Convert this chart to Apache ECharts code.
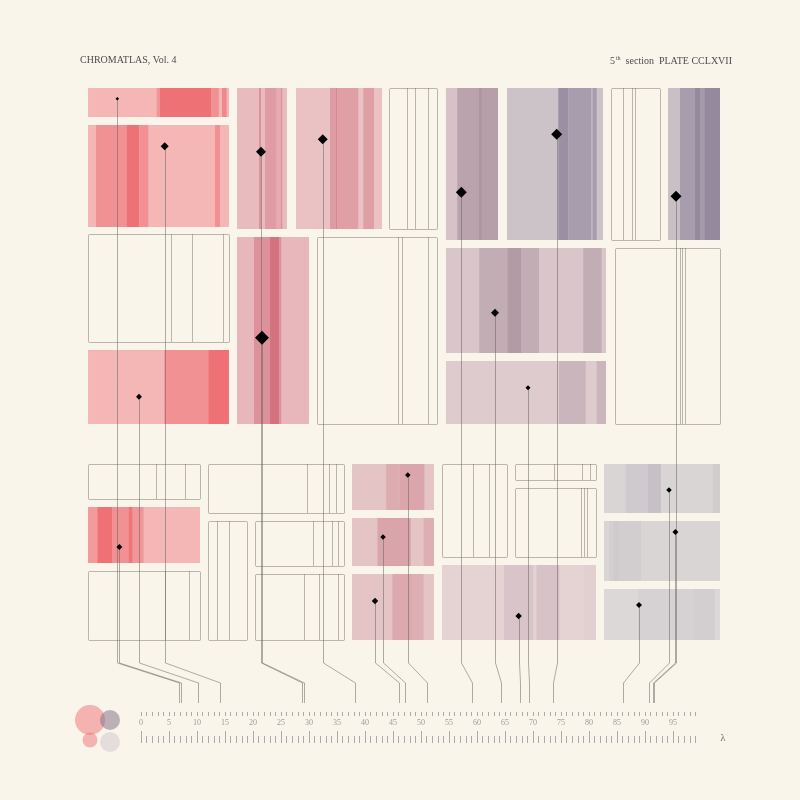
<!DOCTYPE html>
<html><head><meta charset="utf-8">
<script src="https://cdn.jsdelivr.net/npm/echarts@6/dist/echarts.min.js"></script>
<style>html,body{margin:0;background:#f9f5eb}#c{width:800px;height:800px}</style>
</head><body><div id="c"></div>
<script>
// ================= DATA =================
// Plate panels: horizontal extent in λ units, vertical extent in plate depth units
const panelIds = ['A1','A2','A3','A4','B1','B2','B3','B4','B5','C1','C2','C3','C4','C5','C6','C7','D1','D2','D3','E1','E2','E3','E4','F1','F2','F3','G1','G2','G3','G4','H1','H2','H3'];
const panelX0 = [-9.46,-9.46,-9.46,-9.46,17.14,27.68,44.29,17.14,31.43,54.46,65.36,83.93,94.11,54.46,54.46,84.64,-9.46,-9.46,-9.46,11.96,11.96,20.36,20.36,37.68,37.68,37.68,53.75,66.79,66.79,53.75,82.68,82.68,82.68];
const panelX1 = [15.71,15.71,15.71,15.71,26.07,43.04,52.86,30.00,52.86,63.75,82.50,92.68,103.39,83.04,83.04,103.39,10.54,10.54,10.54,36.25,18.93,36.25,36.25,52.32,52.32,52.32,65.36,81.25,81.25,81.25,103.39,103.39,103.39];
const panelY0 = [0,37,146,262,0,0,0,149,149,0,0,0,0,160,273,160,376,419,483,376,433,433,486,376,430,486,376,376,400,477,376,433,501];
const panelY1 = [29,139,254,336,141,141,141,336,336,152,152,152,152,265,336,336,411,475,552,425,552,478,552,422,478,552,469,392,469,552,425,493,552];
const panelPigment = ['vermilion','vermilion',null,'vermilion','rose','rose',null,'rose',null,'mauve','slate',null,'slate','mauve','mauve',null,null,'vermilion',null,null,null,null,null,'blush','blush','blush',null,null,null,'mauve','ash','ash','ash'];
const panelBase = [0.2,0.2,null,0.2,0.2,0.15,null,0.25,null,0.3,0.08,null,0.12,0.26,0.2,null,null,0.2,null,null,null,null,null,0.1,0.1,0.1,null,null,null,0.1,0.2,0.2,0.12];

// Spectral bands inside filled panels: panel id, λ from, λ to, intensity
const bandPanel = ['A1','A1','A1','A1','A2','A2','A2','A2','A4','A4','D2','D2','D2','D2','D2','B1','B1','B1','B1','B2','B2','B2','B2','B4','B4','B4','F1','F1','F2','F2','F3','F3','C1','C1','C1','C5','C5','C5','C5','C6','C6','G4','G4','G4','C2','C2','C2','C2','C4','C4','C4','C4','H1','H1','H1','H2','H2','H2','H3','H3'];
const bandX0 = [2.80,3.39,12.50,14.46,-8.04,-2.55,-0.30,13.21,4.16,12.02,-9.46,-7.79,-5.18,-2.23,-1.48,21.07,22.14,24.23,24.95,33.75,34.82,35.09,39.70,20.18,23.04,24.70,43.79,46.16,42.23,50.46,44.89,48.39,56.48,60.36,61.02,60.41,65.41,67.86,78.98,74.64,81.38,64.84,70.61,79.13,74.52,76.30,80.36,80.66,96.25,98.93,99.95,100.59,86.54,90.46,102.11,83.57,84.32,85.43,88.75,98.75];
const bandX1 = [3.39,12.50,13.88,15.30,-2.55,-0.30,1.30,14.11,12.02,15.71,-7.79,-5.18,-2.23,-1.48,0.45,21.43,24.23,24.95,25.23,34.82,35.09,38.80,41.61,23.04,24.70,25.05,46.16,50.61,48.16,52.32,48.39,50.46,60.36,61.02,63.75,65.41,67.86,71.07,82.27,79.41,83.04,70.09,74.70,81.25,76.30,80.36,80.66,81.38,98.93,99.95,100.59,103.39,90.46,92.84,103.39,84.32,85.43,89.29,98.75,102.46];
const bandLevel = [0.55,0.95,0.6,0.7,0.6,0.95,0.6,0.6,0.6,0.95,0.5,0.95,0.6,0.9,0.55,0.6,0.5,0.35,0.6,0.5,0.7,0.48,0.48,0.6,0.88,0.6,0.38,0.45,0.47,0.35,0.42,0.35,0.7,0.88,0.75,0.58,0.8,0.58,0.58,0.47,0.47,0.27,0.3,0.15,0.85,0.65,0.3,0.65,0.65,0.95,0.7,0.95,0.5,0.75,0.45,0.35,0.5,0.42,0.3,0.38];

// Fine rules inside empty panels: panel id, λ position
const rulePanel = ['A3','A3','A3','B3','B3','B3','B5','B5','B5','C3','C3','C3','C7','C7','C7','D1','D1','D3','D3','E1','E1','E1','E2','E2','E3','E3','E3','E4','E4','E4','G1','G1','G2','G2','G2','G3','G3','G3'];
const ruleX = [5.30,9.11,14.70,47.45,48.88,51.20,45.95,46.55,51.20,86.07,87.63,88.21,96.25,96.66,97.14,2.59,7.93,4.29,8.52,29.64,33.57,34.82,13.57,15.79,30.68,34.11,35.18,29.11,31.71,35.18,59.29,62.09,73.75,78.75,80.09,78.57,79.11,79.64];

// Samples (diamonds): position, mass, and the λ they resolve to on the ruler
const sampleIds = ['A1','A2','A4','B1','B2','B4','C1','C2','C4','C5','C6','D2','F1','F2','F3','G4','H1','H2','H3'];
const sampleX = [-4.23,4.23,-0.36,21.43,32.45,21.61,57.20,74.23,95.54,63.21,69.11,-3.86,47.64,43.21,41.79,67.43,94.29,95.43,88.93];
const sampleY = [10.7,58.3,308.7,63.7,51.3,249.7,104.3,46.3,108.3,224.7,299.7,459,387,449,513,528,402,444,517];
const sampleMass = [3.5,8,6,10,10,14,11,11,11,8,5,6,5.5,5.5,6.5,6.5,5.5,6,6];
const sampleLambda = [6.79,14.11,10.23,28.75,38.18,29.02,59.11,73.57,91.61,64.20,69.23,7.14,51.02,47.14,46.07,67.68,90.71,91.43,86.02];

// Ruler tick labels
const rulerLabels = [0,5,10,15,20,25,30,35,40,45,50,55,60,65,70,75,80,85,90,95];

// ================= STYLE =================
const PALETTE = {
  vermilion: ['#f7c8c7', '#ee6c72'],
  rose: ['#eed2d2', '#d16575'],
  blush: ['#e8cccc', '#c87884'],
  mauve: ['#ecdbdb', '#a58b99'],
  slate: ['#d0c8cb', '#92869c'],
  ash: ['#e0dcda', '#beb8c0']
};
function hex(c){return [parseInt(c.slice(1,3),16),parseInt(c.slice(3,5),16),parseInt(c.slice(5,7),16)];}
function tint(fam, t){
  const a = hex(PALETTE[fam][0]), b = hex(PALETTE[fam][1]);
  return 'rgb(' + a.map((v,k)=>Math.round(v+(b[k]-v)*t)).join(',') + ')';
}
const SERIF = 'Liberation Serif';
const LINE = 'rgba(110,105,95,0.45)';
const LEADER = 'rgba(95,95,90,0.5)';
const TICK = '#aaaaaa';
const BEND_TOP = 575, BEND_BOTTOM = 595, LEADER_END = 615; // plate depth units

const pIndex = id => panelIds.indexOf(id);
const px = v => Math.round(v) + 0.5;

const panelData = panelIds.map((id,i)=>[panelX0[i],panelY0[i],panelX1[i],panelY1[i],i]);
const bandData = bandPanel.map((id,k)=>{const i=pIndex(id);return [bandX0[k],panelY0[i],bandX1[k],panelY1[i],i,bandLevel[k]];});
const ruleData = rulePanel.map((id,k)=>{const i=pIndex(id);return [ruleX[k],panelY0[i],panelY1[i]];});
const leaderData = sampleIds.map((id,k)=>[sampleX[k],sampleY[k],sampleLambda[k]]);
const sampleData = sampleIds.map((id,k)=>[sampleX[k],sampleY[k],sampleMass[k]]);

const chart = echarts.init(document.getElementById('c'), null, {renderer:'canvas'});
chart.setOption({
  backgroundColor: '#f9f5eb',
  animation: false,
  title: [
    {text:'CHROMATLAS, Vol. 4', left:75, top:50, textStyle:{fontFamily:SERIF,fontSize:10,fontWeight:'normal',color:'#4d4d4d'}},
    {text:'{a|5}{b|th}{c|  section  PLATE CCLXVII}', right:63, top:50,
     textStyle:{fontFamily:SERIF,fontSize:10,fontWeight:'normal',color:'#4d4d4d',
       rich:{a:{fontFamily:SERIF,fontSize:10,color:'#4d4d4d'},
             b:{fontFamily:SERIF,fontSize:6,color:'#4d4d4d',verticalAlign:'top',padding:[0,0,6,1]},
             c:{fontFamily:SERIF,fontSize:10,color:'#4d4d4d'}}}}
  ],
  grid: [
    {left:88, top:88, width:632, height:620},
    {left:141, top:712, width:554.4, height:31},
    {left:141, top:712, width:532, height:31},
    {left:141, top:690, width:554.4, height:26}
  ],
  xAxis: [
    {gridIndex:0, type:'value', min:-9.4643, max:103.3929, show:false},
    {gridIndex:1, type:'value', position:'bottom', min:0, max:99, interval:1,
     axisLine:{show:false}, splitLine:{show:false}, axisLabel:{show:false},
     axisTick:{inside:true, length:7, lineStyle:{color:TICK}},
     name:'λ', nameLocation:'end', nameGap:25,
     nameTextStyle:{fontFamily:SERIF, fontSize:10, color:'#666', verticalAlign:'bottom'}},
    {gridIndex:2, type:'value', position:'bottom', min:0, max:95, interval:5,
     axisLine:{show:false}, splitLine:{show:false}, axisLabel:{show:false},
     axisTick:{inside:true, length:12, lineStyle:{color:TICK}}},
    {gridIndex:3, type:'value', position:'bottom', min:0, max:99, interval:1,
     axisLine:{show:false}, splitLine:{show:false},
     axisTick:{show:true, inside:true, length:4, lineStyle:{color:TICK}},
     axisLabel:{margin:3, fontFamily:SERIF, fontSize:8, color:'#9c9c9c',
       formatter: v => rulerLabels.indexOf(v) >= 0 ? String(v) : ''}}
  ],
  yAxis: [
    {gridIndex:0, type:'value', inverse:true, min:0, max:620, show:false},
    {gridIndex:1, type:'value', show:false},
    {gridIndex:2, type:'value', show:false},
    {gridIndex:3, type:'value', show:false}
  ],
  graphic: [
    {type:'circle', shape:{cx:90, cy:720, r:15}, style:{fill:'rgba(240,112,118,0.5)'}},
    {type:'circle', shape:{cx:110, cy:720, r:10}, style:{fill:'rgba(128,108,132,0.5)'}},
    {type:'circle', shape:{cx:90, cy:740, r:7.5}, style:{fill:'rgba(240,112,118,0.5)'}},
    {type:'circle', shape:{cx:110, cy:742, r:10}, style:{fill:'rgba(205,200,204,0.5)'}}
  ],
  series: [
    {type:'custom', name:'panels', xAxisIndex:0, yAxisIndex:0, data:panelData, z:1,
     renderItem:(params, api)=>{
       const i = api.value(4);
       const a = api.coord([api.value(0), api.value(1)]);
       const b = api.coord([api.value(2), api.value(3)]);
       if (panelPigment[i]) {
         return {type:'rect', shape:{x:a[0], y:a[1], width:b[0]-a[0], height:b[1]-a[1]},
                 style:{fill:tint(panelPigment[i], panelBase[i])}};
       }
       return {type:'rect', shape:{x:px(a[0]), y:px(a[1]), width:Math.round(b[0]-a[0]), height:Math.round(b[1]-a[1]), r:1},
               style:{fill:'none', stroke:LINE, lineWidth:1}};
     }},
    {type:'custom', name:'bands', xAxisIndex:0, yAxisIndex:0, data:bandData, z:2,
     renderItem:(params, api)=>{
       const a = api.coord([api.value(0), api.value(1)]);
       const b = api.coord([api.value(2), api.value(3)]);
       return {type:'rect', shape:{x:a[0], y:a[1], width:b[0]-a[0], height:b[1]-a[1]},
               style:{fill:tint(panelPigment[api.value(4)], api.value(5))}};
     }},
    {type:'custom', name:'rules', xAxisIndex:0, yAxisIndex:0, data:ruleData, z:3,
     renderItem:(params, api)=>{
       const a = api.coord([api.value(0), api.value(1)]);
       const b = api.coord([api.value(0), api.value(2)]);
       return {type:'line', shape:{x1:px(a[0]), y1:a[1], x2:px(a[0]), y2:b[1]},
               style:{stroke:LINE, lineWidth:1}};
     }},
    {type:'custom', name:'leaders', xAxisIndex:0, yAxisIndex:0, data:leaderData, z:4,
     renderItem:(params, api)=>{
       const x = api.value(0), y = api.value(1), l = api.value(2);
       const pts = [api.coord([x,y]), api.coord([x,BEND_TOP]), api.coord([l,BEND_BOTTOM]), api.coord([l,LEADER_END])]
         .map(p=>[px(p[0]), p[1]]);
       return {type:'polyline', shape:{points:pts}, style:{stroke:LEADER, lineWidth:1, fill:null}};
     }},
    {type:'scatter', name:'samples', xAxisIndex:0, yAxisIndex:0, data:sampleData, z:5,
     symbol:'diamond', symbolSize:v=>v[2], itemStyle:{color:'#000', opacity:1}}
  ]
});
</script></body></html>
